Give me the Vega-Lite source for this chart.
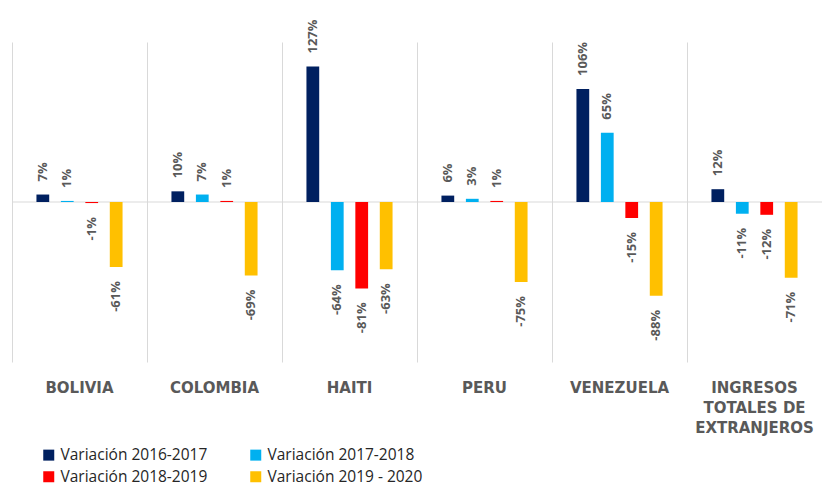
{
  "$schema": "https://vega.github.io/schema/vega-lite/v6.json",
  "autosize": {"type": "none"},
  "padding": {"left": 12, "top": 42, "right": 0, "bottom": 125},
  "width": 810,
  "height": 320,
  "background": "white",
  "config": {
    "view": {"stroke": null},
    "locale": {"number": {"decimal": ".", "thousands": ",", "grouping": [3], "currency": ["$", ""], "minus": "-"}}
  },
  "data": {
    "values": [
      {"pais": "BOLIVIA", "serie": "Variación 2016-2017", "v": 0.07},
      {"pais": "BOLIVIA", "serie": "Variación 2017-2018", "v": 0.01},
      {"pais": "BOLIVIA", "serie": "Variación 2018-2019", "v": -0.01},
      {"pais": "BOLIVIA", "serie": "Variación 2019 - 2020", "v": -0.61},
      {"pais": "COLOMBIA", "serie": "Variación 2016-2017", "v": 0.10},
      {"pais": "COLOMBIA", "serie": "Variación 2017-2018", "v": 0.07},
      {"pais": "COLOMBIA", "serie": "Variación 2018-2019", "v": 0.01},
      {"pais": "COLOMBIA", "serie": "Variación 2019 - 2020", "v": -0.69},
      {"pais": "HAITI", "serie": "Variación 2016-2017", "v": 1.27},
      {"pais": "HAITI", "serie": "Variación 2017-2018", "v": -0.64},
      {"pais": "HAITI", "serie": "Variación 2018-2019", "v": -0.81},
      {"pais": "HAITI", "serie": "Variación 2019 - 2020", "v": -0.63},
      {"pais": "PERU", "serie": "Variación 2016-2017", "v": 0.06},
      {"pais": "PERU", "serie": "Variación 2017-2018", "v": 0.03},
      {"pais": "PERU", "serie": "Variación 2018-2019", "v": 0.01},
      {"pais": "PERU", "serie": "Variación 2019 - 2020", "v": -0.75},
      {"pais": "VENEZUELA", "serie": "Variación 2016-2017", "v": 1.06},
      {"pais": "VENEZUELA", "serie": "Variación 2017-2018", "v": 0.65},
      {"pais": "VENEZUELA", "serie": "Variación 2018-2019", "v": -0.15},
      {"pais": "VENEZUELA", "serie": "Variación 2019 - 2020", "v": -0.88},
      {"pais": "INGRESOS TOTALES DE EXTRANJEROS", "serie": "Variación 2016-2017", "v": 0.12},
      {"pais": "INGRESOS TOTALES DE EXTRANJEROS", "serie": "Variación 2017-2018", "v": -0.11},
      {"pais": "INGRESOS TOTALES DE EXTRANJEROS", "serie": "Variación 2018-2019", "v": -0.12},
      {"pais": "INGRESOS TOTALES DE EXTRANJEROS", "serie": "Variación 2019 - 2020", "v": -0.71}
    ]
  },
  "encoding": {
    "x": {
      "field": "pais", "type": "nominal", "sort": null, "title": null,
      "scale": {"paddingInner": 0, "paddingOuter": 0},
      "axis": {
        "domain": false, "ticks": false, "grid": true, "bandPosition": 0,
        "gridColor": "#d9d9d9", "gridWidth": 1,
        "labelAngle": 0, "labelPadding": 18, "labelBaseline": "top",
        "labelFont": "DejaVu Sans", "labelFontWeight": "bold", "labelFontSize": 15,
        "labelColor": "#595959", "labelLineHeight": 20, "labelLimit": 200,
        "labelExpr": "datum.value == 'INGRESOS TOTALES DE EXTRANJEROS' ? ['INGRESOS', 'TOTALES DE', 'EXTRANJEROS'] : datum.value"
      }
    },
    "xOffset": {
      "field": "serie", "type": "nominal", "sort": null,
      "scale": {"paddingInner": 0.478, "paddingOuter": 1.18}
    },
    "y": {
      "field": "v", "type": "quantitative", "title": null,
      "scale": {"domain": [-1.5, 1.5], "nice": false},
      "axis": null
    }
  },
  "layer": [
    {
      "mark": {"type": "rule", "color": "#d9d9d9", "strokeWidth": 1},
      "data": {"values": [{"z": 0}]},
      "encoding": {
        "x": null, "xOffset": null,
        "y": {"field": "z", "type": "quantitative", "scale": {"domain": [-1.5, 1.5], "nice": false}, "axis": null}
      }
    },
    {
      "mark": {"type": "bar"},
      "encoding": {
        "color": {
          "field": "serie", "type": "nominal", "sort": null,
          "scale": {
            "domain": ["Variación 2016-2017", "Variación 2017-2018", "Variación 2018-2019", "Variación 2019 - 2020"],
            "range": ["#002060", "#00B0F0", "#FF0000", "#FFC000"]
          },
          "legend": {
            "title": null, "orient": "none", "legendX": 29, "legendY": 405,
            "direction": "horizontal", "columns": 2, "columnPadding": 40, "rowPadding": 5,
            "symbolType": "square", "symbolSize": 121, "symbolStrokeWidth": 0,
            "symbolOffset": 0, "labelOffset": 4, "labelLimit": 300,
            "labelFont": "Open Sans", "labelFontSize": 15.5, "labelColor": "#262626"
          }
        }
      }
    },
    {
      "transform": [{"filter": "datum.v >= 0"}],
      "mark": {"type": "text", "angle": 270, "align": "left", "baseline": "middle", "dx": 13,
               "font": "Open Sans", "fontWeight": "bold", "fontSize": 13, "color": "#595959"},
      "encoding": {"text": {"field": "v", "type": "quantitative", "format": ".0%"}}
    },
    {
      "transform": [{"filter": "datum.v < 0"}],
      "mark": {"type": "text", "angle": 270, "align": "right", "baseline": "middle", "dx": -14,
               "font": "Open Sans", "fontWeight": "bold", "fontSize": 13, "color": "#595959"},
      "encoding": {"text": {"field": "v", "type": "quantitative", "format": ".0%"}}
    }
  ]
}
